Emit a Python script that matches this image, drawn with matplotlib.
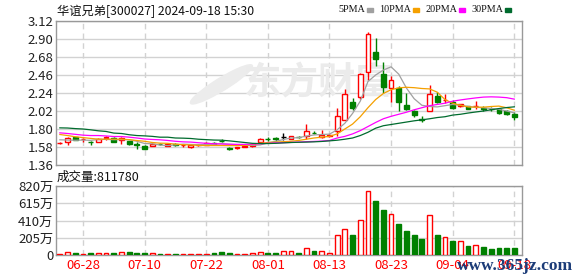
import matplotlib
matplotlib.use('Agg')
import matplotlib.pyplot as plt
from matplotlib.patches import Rectangle, Ellipse

# ---------------- data ----------------
dates = ['06-25', '06-26', '06-27', '06-28', '07-01', '07-02', '07-03', '07-04', '07-05',
         '07-08', '07-09', '07-10', '07-11', '07-12', '07-15', '07-16', '07-17', '07-18',
         '07-19', '07-22', '07-23', '07-24', '07-25', '07-26', '07-29', '07-30', '07-31',
         '08-01', '08-02', '08-05', '08-06', '08-07', '08-08', '08-09', '08-12', '08-13',
         '08-14', '08-15', '08-16', '08-19', '08-20', '08-21', '08-22', '08-23', '08-26',
         '08-27', '08-28', '08-29', '08-30', '09-02', '09-03', '09-04', '09-05', '09-06',
         '09-09', '09-10', '09-11', '09-12', '09-13', '09-18']

opens = [1.628, 1.647, 1.700, 1.675, 1.646, 1.643, 1.695, 1.694, 1.663, 1.651,
         1.612, 1.590, 1.594, 1.620, 1.598, 1.615, 1.600, 1.585, 1.600, 1.610,
         1.630, 1.655, 1.565, 1.562, 1.580, 1.590, 1.645, 1.682, 1.685, 1.700,
         1.675, 1.708, 1.712, 1.755, 1.700, 1.715, 1.770, 1.910, 2.125, 2.185,
         2.498, 2.735, 2.478, 2.303, 2.303, 2.099, 2.020, 1.918, 2.018, 2.209,
         2.150, 2.128, 2.083, 2.079, 2.075, 2.052, 2.050, 2.047, 2.026, 1.985]
highs = [1.645, 1.700, 1.705, 1.690, 1.655, 1.690, 1.716, 1.700, 1.700, 1.655,
         1.640, 1.600, 1.625, 1.632, 1.625, 1.625, 1.620, 1.615, 1.615, 1.635,
         1.640, 1.675, 1.585, 1.585, 1.600, 1.625, 1.685, 1.700, 1.705, 1.755,
         1.720, 1.720, 1.866, 1.775, 1.790, 1.740, 2.058, 2.290, 2.175, 2.486,
         2.980, 2.910, 2.620, 2.445, 2.331, 2.234, 2.038, 1.955, 2.332, 2.250,
         2.222, 2.160, 2.108, 2.085, 2.140, 2.075, 2.072, 2.060, 2.030, 2.006]
lows = [1.620, 1.606, 1.660, 1.640, 1.606, 1.640, 1.670, 1.635, 1.612, 1.607,
        1.556, 1.555, 1.590, 1.600, 1.595, 1.590, 1.580, 1.570, 1.590, 1.600,
        1.610, 1.635, 1.540, 1.560, 1.575, 1.585, 1.640, 1.655, 1.655, 1.660,
        1.672, 1.690, 1.680, 1.735, 1.695, 1.700, 1.720, 1.905, 2.028, 2.165,
        2.400, 2.570, 2.234, 2.132, 2.018, 2.038, 1.944, 1.885, 2.018, 2.112,
        2.112, 2.047, 2.071, 2.040, 2.050, 2.025, 2.020, 1.980, 1.975, 1.908]
closes = [1.633, 1.692, 1.663, 1.680, 1.642, 1.682, 1.700, 1.640, 1.692, 1.614,
          1.606, 1.561, 1.622, 1.616, 1.622, 1.610, 1.605, 1.600, 1.605, 1.630,
          1.620, 1.650, 1.560, 1.582, 1.590, 1.620, 1.682, 1.675, 1.678, 1.700,
          1.712, 1.703, 1.770, 1.750, 1.728, 1.730, 1.960, 2.232, 2.058, 2.474,
          2.955, 2.660, 2.315, 2.397, 2.132, 2.040, 1.968, 1.912, 2.222, 2.128,
          2.155, 2.055, 2.105, 2.050, 2.080, 2.048, 2.045, 1.998, 1.981, 1.949]
# volume in 万股
volumes = [12, 36, 24, 12, 24, 24, 24, 24, 36, 36,
           24, 24, 24, 12, 12, 12, 12, 12, 12, 12,
           24, 36, 24, 12, 12, 24, 36, 24, 24, 48,
           48, 24, 80, 48, 48, 24, 238, 305, 238, 412,
           756, 641, 535, 483, 368, 285, 238, 190, 471, 238,
           210, 166, 162, 107, 115, 95, 71, 83, 83, 81.2]

ma5 = [1.668, 1.665, 1.662, 1.665, 1.661, 1.672, 1.673, 1.669, 1.671, 1.668,
       1.650, 1.623, 1.619, 1.604, 1.597, 1.606, 1.615, 1.611, 1.608, 1.610,
       1.612, 1.621, 1.613, 1.608, 1.600, 1.600, 1.605, 1.630, 1.649, 1.671,
       1.690, 1.694, 1.713, 1.727, 1.733, 1.737, 1.790, 1.870, 1.990, 2.140,
       2.380, 2.460, 2.520, 2.560, 2.470, 2.300, 2.170, 2.090, 2.075, 2.070,
       2.085, 2.100, 2.090, 2.075, 2.065, 2.060, 2.050, 2.040, 2.020, 1.997]
ma10 = [1.733, 1.720, 1.705, 1.695, 1.685, 1.676, 1.676, 1.676, 1.676, 1.670,
        1.659, 1.650, 1.635, 1.627, 1.625, 1.615, 1.608, 1.605, 1.600, 1.598,
        1.598, 1.598, 1.597, 1.598, 1.600, 1.610, 1.625, 1.635, 1.640, 1.645,
        1.650, 1.660, 1.675, 1.690, 1.700, 1.710, 1.740, 1.800, 1.860, 1.950,
        2.060, 2.160, 2.234, 2.280, 2.303, 2.310, 2.305, 2.295, 2.290, 2.250,
        2.160, 2.115, 2.090, 2.070, 2.067, 2.067, 2.075, 2.080, 2.060, 2.030]
ma20 = [1.753, 1.745, 1.735, 1.725, 1.720, 1.720, 1.715, 1.708, 1.708, 1.700,
        1.690, 1.678, 1.672, 1.668, 1.660, 1.650, 1.643, 1.640, 1.632, 1.625,
        1.620, 1.617, 1.614, 1.612, 1.612, 1.615, 1.620, 1.625, 1.630, 1.633,
        1.636, 1.640, 1.645, 1.648, 1.652, 1.660, 1.690, 1.710, 1.740, 1.780,
        1.830, 1.880, 1.925, 1.955, 1.980, 2.005, 2.035, 2.060, 2.085, 2.100,
        2.115, 2.140, 2.155, 2.168, 2.180, 2.190, 2.193, 2.190, 2.183, 2.165]
ma30 = [1.814, 1.812, 1.805, 1.800, 1.790, 1.778, 1.770, 1.750, 1.745, 1.730,
        1.720, 1.716, 1.710, 1.700, 1.700, 1.690, 1.688, 1.684, 1.675, 1.670,
        1.665, 1.663, 1.655, 1.645, 1.635, 1.625, 1.622, 1.622, 1.625, 1.630,
        1.635, 1.638, 1.640, 1.643, 1.648, 1.655, 1.663, 1.675, 1.690, 1.720,
        1.760, 1.810, 1.840, 1.855, 1.870, 1.885, 1.900, 1.912, 1.925, 1.940,
        1.950, 1.970, 1.980, 1.995, 2.008, 2.020, 2.035, 2.050, 2.062, 2.071]

price_ticks = [1.36, 1.58, 1.80, 2.02, 2.24, 2.46, 2.68, 2.90, 3.12]
vol_ticks = [0, 205, 410, 615, 820]
vol_tick_labels = ['0', '205万', '410万', '615万', '820万']
xtick_dates = ['06-28', '07-10', '07-22', '08-01', '08-13', '08-23', '09-04', '09-18']
title_text = '华谊兄弟[300027] 2024-09-18 15:30'
legend_names = ['5PMA', '10PMA', '20PMA', '30PMA']
volume_title = '成交量:811780'

# ---------------- style ----------------
plt.rcParams['font.family'] = ['Noto Sans CJK SC', 'DejaVu Sans']
RED = '#ff0000'
GREEN = '#008000'
MA_COLORS = ['#a0a0a0', '#f5a000', '#ff00ff', '#006b2e']
GRID = '#d2d2d2'
SPINE = '#999999'

W, H = 578, 276
fig = plt.figure(figsize=(W / 100, H / 100), dpi=100)
fig.patch.set_facecolor('white')

ax = fig.add_axes([56 / W, 1 - 165 / H, 466 / W, 144 / H])
axv = fig.add_axes([56 / W, 1 - 255 / H, 466 / W, 69 / H])

x = list(range(len(dates)))
tick_idx = [dates.index(d) for d in xtick_dates]

for a in (ax, axv):
    a.set_xlim(-0.5, len(dates))
    for s in a.spines.values():
        s.set_color(SPINE)
        s.set_linewidth(1.0)
    a.set_xticks(tick_idx)
    a.grid(True, axis='y', color=GRID, lw=1.0, ls='-', zorder=0)
    a.grid(True, axis='x', color=GRID, lw=1.0, ls=(0, (4, 3)), zorder=0)
    a.tick_params(length=0, pad=2, labelsize=9.5, labelcolor='#222222')
    a.set_axisbelow(True)

# watermark (logo + name)
ax.add_patch(Ellipse((0.355, 0.56), 0.045, 0.30, angle=-25, transform=ax.transAxes,
                     color='#ececec', zorder=1))
ax.text(0.565, 0.57, '东方财富', transform=ax.transAxes, fontsize=27, weight='bold',
        color='#ebebeb', ha='center', va='center', zorder=1)

# ---------------- candles ----------------
bw = 0.62
for i in x:
    o, h, l, c = opens[i], highs[i], lows[i], closes[i]
    if c > o:
        col, face = RED, 'white'
    elif c == o:
        col, face = '#000000', '#000000'
    else:
        col, face = GREEN, GREEN
    ax.vlines(i, l, h, color=col, lw=1.0, zorder=3)
    body = max(abs(c - o), 0.001)
    ax.bar(i, body, bottom=min(o, c), width=bw, color=face, edgecolor=col,
           linewidth=1.0, zorder=4)

for ma, colr in zip([ma5, ma10, ma20, ma30], MA_COLORS):
    ax.plot(x, ma, color=colr, lw=0.9, zorder=5)

ax.set_ylim(1.36, 3.12)
ax.set_yticks(price_ticks)
ax.set_yticklabels([f'{v:.2f}' for v in price_ticks])
ax.tick_params(axis='x', labelbottom=False)

# ---------------- volume ----------------
for i in x:
    if closes[i] >= opens[i]:
        axv.bar(i, volumes[i], width=bw, color='white', edgecolor=RED, linewidth=1.0, zorder=3)
    else:
        axv.bar(i, volumes[i], width=bw, color=GREEN, edgecolor=GREEN, linewidth=1.0, zorder=3)
axv.set_ylim(0, 820)
axv.set_yticks(vol_ticks)
axv.set_yticklabels(vol_tick_labels)
axv.set_xticklabels(xtick_dates)
axv.tick_params(axis='x', labelcolor=RED, labelsize=9.5, pad=3)

# ---------------- texts ----------------
fig.text(57 / W, 1 - 11 / H, title_text, fontsize=8.8, va='center', ha='left', color='#111111')
fig.text(57 / W, 1 - 177 / H, volume_title, fontsize=9, va='center', ha='left', color='#111111')

sq_x = [367, 413, 459, 505]
for name, colr, sx in zip(legend_names, MA_COLORS, sq_x):
    fig.text((sx - 2) / W, 1 - 10 / H, name, fontsize=7.3, va='center', ha='right',
             color='#111111', family='Liberation Serif')
    fig.patches.append(Rectangle((sx / W, 1 - 11.5 / H), 6 / W, 3.5 / H,
                                 transform=fig.transFigure, color=colr))

fig.text(457 / W, 1 - 266 / H, 'www.365jz.com', fontsize=12.5, va='center', ha='left',
         color='#1c3c78', family='Liberation Serif', weight='bold')

fig.savefig('out.png', dpi=100, facecolor='white')
